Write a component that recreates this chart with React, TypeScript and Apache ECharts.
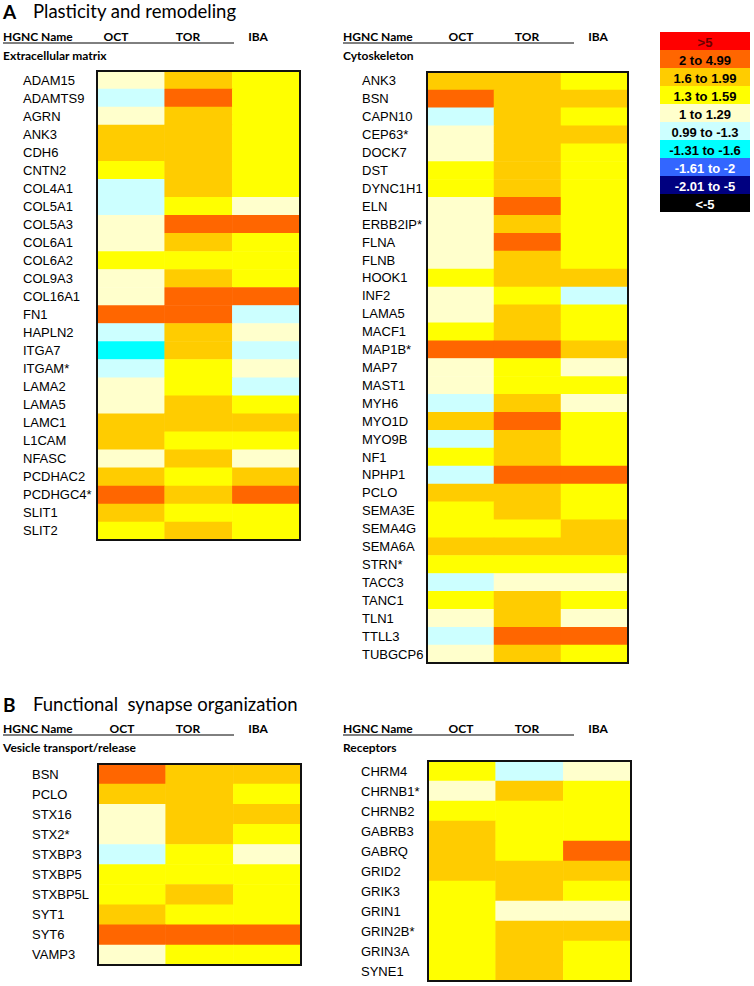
import React, { useEffect, useRef } from "react";
import * as echarts from "echarts";

// Legend classes (fold change ranges)
const LEGEND_LABELS = [">5", "2 to 4.99", "1.6 to 1.99", "1.3 to 1.59", "1 to 1.29", "0.99 to -1.3", "-1.31 to -1.6", "-1.61 to -2", "-2.01 to -5", "<-5"];
const LEGEND_COLORS = ["#FF0000", "#FF6600", "#FFCC00", "#FFFF00", "#FFFFCC", "#CCFFFF", "#00FFFF", "#3366FF", "#000080", "#000000"];
const LEGEND_TEXT_COLORS = ["#6b0000", "#000", "#000", "#000", "#000", "#000", "#000", "#fff", "#fff", "#fff"];
// class codes, same order as the legend
const CODES = ["X", "R", "O", "Y", "P", "C", "T", "B", "N", "K"];

const COLUMNS = ["OCT", "TOR", "IBA"];

// A: Extracellular matrix
const ECM_GENES = ["ADAM15", "ADAMTS9", "AGRN", "ANK3", "CDH6", "CNTN2", "COL4A1", "COL5A1", "COL5A3", "COL6A1", "COL6A2", "COL9A3", "COL16A1", "FN1", "HAPLN2", "ITGA7", "ITGAM*", "LAMA2", "LAMA5", "LAMC1", "L1CAM", "NFASC", "PCDHAC2", "PCDHGC4*", "SLIT1", "SLIT2"];
const ECM_OCT = ["P", "C", "P", "O", "O", "Y", "C", "C", "P", "P", "Y", "P", "P", "R", "C", "T", "C", "P", "P", "O", "O", "P", "O", "R", "O", "Y"];
const ECM_TOR = ["O", "R", "O", "O", "O", "O", "O", "Y", "R", "O", "Y", "O", "R", "R", "O", "O", "Y", "Y", "O", "O", "Y", "O", "Y", "O", "Y", "O"];
const ECM_IBA = ["Y", "Y", "Y", "Y", "Y", "Y", "Y", "P", "R", "Y", "Y", "Y", "R", "C", "P", "C", "P", "C", "Y", "O", "Y", "P", "O", "R", "Y", "Y"];

// A: Cytoskeleton
const CYTO_GENES = ["ANK3", "BSN", "CAPN10", "CEP63*", "DOCK7", "DST", "DYNC1H1", "ELN", "ERBB2IP*", "FLNA", "FLNB", "HOOK1", "INF2", "LAMA5", "MACF1", "MAP1B*", "MAP7", "MAST1", "MYH6", "MYO1D", "MYO9B", "NF1", "NPHP1", "PCLO", "SEMA3E", "SEMA4G", "SEMA6A", "STRN*", "TACC3", "TANC1", "TLN1", "TTLL3", "TUBGCP6"];
const CYTO_OCT = ["O", "R", "C", "P", "P", "Y", "Y", "P", "P", "P", "P", "Y", "P", "P", "Y", "R", "P", "P", "C", "O", "C", "Y", "C", "O", "Y", "Y", "O", "Y", "C", "Y", "P", "C", "P"];
const CYTO_TOR = ["O", "O", "O", "O", "O", "O", "O", "R", "O", "R", "O", "O", "Y", "O", "O", "R", "Y", "Y", "O", "R", "O", "O", "R", "O", "O", "Y", "O", "Y", "P", "O", "O", "R", "O"];
const CYTO_IBA = ["Y", "O", "Y", "O", "Y", "Y", "Y", "Y", "Y", "Y", "Y", "O", "C", "Y", "Y", "O", "P", "Y", "P", "Y", "Y", "Y", "R", "Y", "Y", "O", "O", "Y", "P", "Y", "P", "R", "Y"];

// B: Vesicle transport/release
const VES_GENES = ["BSN", "PCLO", "STX16", "STX2*", "STXBP3", "STXBP5", "STXBP5L", "SYT1", "SYT6", "VAMP3"];
const VES_OCT = ["R", "O", "P", "P", "C", "Y", "Y", "O", "R", "P"];
const VES_TOR = ["O", "O", "O", "O", "Y", "Y", "O", "Y", "R", "Y"];
const VES_IBA = ["O", "Y", "O", "Y", "P", "Y", "Y", "Y", "R", "Y"];

// B: Receptors
const REC_GENES = ["CHRM4", "CHRNB1*", "CHRNB2", "GABRB3", "GABRQ", "GRID2", "GRIK3", "GRIN1", "GRIN2B*", "GRIN3A", "SYNE1"];
const REC_OCT = ["Y", "P", "Y", "O", "O", "O", "Y", "Y", "Y", "Y", "Y"];
const REC_TOR = ["C", "O", "Y", "Y", "Y", "O", "O", "P", "O", "O", "O"];
const REC_IBA = ["P", "Y", "Y", "Y", "R", "O", "Y", "P", "O", "Y", "Y"];

const PANELS = [
  { genes: ECM_GENES, cols: [ECM_OCT, ECM_TOR, ECM_IBA], box: { x: 97, y: 71, w: 203, h: 469 }, labelX: 23 },
  { genes: CYTO_GENES, cols: [CYTO_OCT, CYTO_TOR, CYTO_IBA], box: { x: 427, y: 72, w: 201, h: 591 }, labelX: 362 },
  { genes: VES_GENES, cols: [VES_OCT, VES_TOR, VES_IBA], box: { x: 98, y: 764, w: 203, h: 201 }, labelX: 32 },
  { genes: REC_GENES, cols: [REC_OCT, REC_TOR, REC_IBA], box: { x: 428, y: 761, w: 203, h: 220 }, labelX: 361 },
];

const HEAD_FONT = "Lato";
const GENE_FONT = "'Liberation Sans', Arial, sans-serif";

function headerBlock(x0: number, y: number, sub: string, colX: number[]) {
  const f = `bold 12px ${HEAD_FONT}`;
  return [
    { type: "text", x: x0, y, style: { text: "HGNC Name", font: f, fill: "#000", textVerticalAlign: "middle" } },
    { type: "text", x: colX[0], y, style: { text: COLUMNS[0], font: f, fill: "#000", textAlign: "center", textVerticalAlign: "middle" } },
    { type: "text", x: colX[1], y, style: { text: COLUMNS[1], font: f, fill: "#000", textAlign: "center", textVerticalAlign: "middle" } },
    { type: "text", x: colX[2], y, style: { text: COLUMNS[2], font: f, fill: "#000", textAlign: "center", textVerticalAlign: "middle" } },
    { type: "line", shape: { x1: x0, y1: y + 7, x2: colX[3], y2: y + 7 }, style: { stroke: "#000", lineWidth: 1 } },
    { type: "text", x: x0, y: y + 19, style: { text: sub, font: f, fill: "#000", textVerticalAlign: "middle" } },
  ];
}

export default function App() {
  const ref = useRef<HTMLDivElement>(null);
  useEffect(() => {
    if (!ref.current) return;
    const chart = echarts.init(ref.current, null, { renderer: "svg" });

    const grids: any[] = [];
    const xAxes: any[] = [];
    const yAxes: any[] = [];
    const series: any[] = [];
    const graphics: any[] = [];

    PANELS.forEach((p, k) => {
      grids.push({ left: p.box.x, top: p.box.y, width: p.box.w, height: p.box.h, containLabel: false });
      xAxes.push({ type: "category", gridIndex: k, data: COLUMNS, show: false });
      yAxes.push({
        type: "category",
        gridIndex: k,
        data: p.genes,
        inverse: true,
        axisLine: { show: false },
        axisTick: { show: false },
        splitLine: { show: false },
        axisLabel: {
          align: "left",
          margin: p.box.x - p.labelX,
          color: "#000",
          fontSize: 13,
          fontFamily: GENE_FONT,
          interval: 0,
        },
      });
      const data: number[][] = [];
      p.genes.forEach((g, i) => {
        p.cols.forEach((col, j) => {
          data.push([j, i, CODES.indexOf(col[i])]);
        });
      });
      series.push({
        type: "heatmap",
        xAxisIndex: k,
        yAxisIndex: k,
        data,
        itemStyle: { borderWidth: 0 },
        emphasis: { disabled: true },
        progressive: 0,
      });
      graphics.push({
        type: "rect",
        z: 100,
        shape: { x: p.box.x, y: p.box.y, width: p.box.w, height: p.box.h },
        style: { fill: "none", stroke: "#111", lineWidth: 2 },
      });
    });

    // Titles
    graphics.push(
      { type: "text", x: 3, y: 11, style: { text: "A", font: `bold 19px ${HEAD_FONT}`, fill: "#000", textVerticalAlign: "middle" } },
      { type: "text", x: 33, y: 11, style: { text: "Plasticity and remodeling", font: `18.5px ${HEAD_FONT}`, fill: "#000", textVerticalAlign: "middle" } },
      { type: "text", x: 3, y: 704, style: { text: "B", font: `bold 19px ${HEAD_FONT}`, fill: "#000", textVerticalAlign: "middle" } },
      { type: "text", x: 33, y: 704, style: { text: "Functional  synapse organization", font: `18.5px ${HEAD_FONT}`, fill: "#000", textVerticalAlign: "middle" } }
    );
    graphics.push(...headerBlock(3, 36, "Extracellular matrix", [116, 188, 258, 234]));
    graphics.push(...headerBlock(343, 36, "Cytoskeleton", [461, 527, 598, 574]));
    graphics.push(...headerBlock(3, 728, "Vesicle transport/release", [122, 188, 258, 234]));
    graphics.push(...headerBlock(343, 728, "Receptors", [461, 527, 598, 574]));

    // Color key
    const lx = 660, ly = 32, lw = 90, lh = 18;
    LEGEND_LABELS.forEach((lab, i) => {
      graphics.push({
        type: "rect",
        shape: { x: lx, y: ly + i * lh, width: lw, height: lh },
        style: { fill: LEGEND_COLORS[i], stroke: "none" },
      });
      graphics.push({
        type: "text",
        x: lx + lw / 2,
        y: ly + i * lh + lh / 2 + 1,
        style: { text: lab, font: `bold 13px ${GENE_FONT}`, fill: LEGEND_TEXT_COLORS[i], textAlign: "center", textVerticalAlign: "middle" },
      });
    });

    chart.setOption({
      animation: false,
      grid: grids,
      xAxis: xAxes,
      yAxis: yAxes,
      visualMap: {
        type: "piecewise",
        show: false,
        dimension: 2,
        seriesIndex: [0, 1, 2, 3],
        pieces: LEGEND_COLORS.map((c, i) => ({ value: i, color: c })),
      },
      series,
      graphic: graphics,
    });
    return () => chart.dispose();
  }, []);
  return <div ref={ref} style={{ position: "absolute", left: 0, top: 0, width: 754, height: 986, background: "#fff" }} />;
}
